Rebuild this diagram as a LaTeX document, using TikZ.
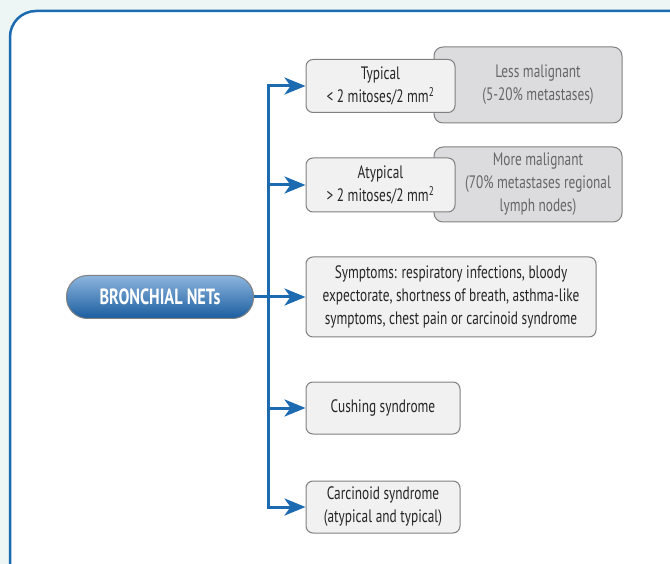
\documentclass[tikz,border=0pt]{standalone}
\usepackage{fontspec}
\setmainfont[FakeStretch=0.74]{PT Sans}
\usetikzlibrary{arrows.meta}
\definecolor{netblue}{HTML}{1C6BB0}
\definecolor{netlight}{HTML}{8DB4DE}
\definecolor{netdark}{HTML}{1A5E9F}
\definecolor{boxgray}{HTML}{F1F1F1}
\definecolor{gradegray}{HTML}{DCDCDE}
\definecolor{edgegray}{HTML}{808080}
\definecolor{bggray}{HTML}{EEF5F5}
\tikzset{
  netbox/.style={draw=edgegray, fill=boxgray, rounded corners=7pt, line width=1pt,
    align=center, text=black!85, font=\fontsize{18}{23}\selectfont},
  gradebox/.style={draw=edgegray, fill=gradegray, rounded corners=9pt, line width=1pt},
  gradetext/.style={align=center, text=black!60, font=\fontsize{18}{23}\selectfont},
  pill/.style={draw=edgegray, line width=1pt, rounded corners=21pt,
    top color=netlight, bottom color=netdark, text=white,
    font=\fontsize{22}{24}\selectfont\bfseries},
  netline/.style={draw=netblue, line width=3pt},
  netarrow/.style={netline, -{Stealth[length=21pt,width=17pt,inset=6pt]}},
}
\begin{document}
\begin{tikzpicture}[x=1pt,y=-1pt]
\useasboundingbox (0,0) rectangle (670,564);
\clip (0,0) rectangle (670,564);
\fill [bggray] (0,0) rectangle (670,564);
\draw [netblue, line width=2.5pt, fill=white, rounded corners=26pt] (10,11) rectangle (700,600);
% grade boxes behind
\node [gradebox, minimum width=188pt, minimum height=76pt] (less) at (528,85) {};
\node [gradetext] (lesstext) at (538,85) {Less malignant\\(5-20\% metastases)};
\node [gradebox, minimum width=188pt, minimum height=75pt] (more) at (528,184.5) {};
\node [gradetext] (moretext) at (538,184.5) {More malignant\\(70\% metastases regional\\lymph nodes)};
% main boxes
\node [netbox, minimum width=149pt, minimum height=53pt] (typ) at (380.5,86) {Typical\\< 2 mitoses/2 mm\textsuperscript{2}};
\node [netbox, minimum width=149pt, minimum height=54pt] (atyp) at (380.5,185) {Atypical\\> 2 mitoses/2 mm\textsuperscript{2}};
\node [netbox, minimum width=290pt, minimum height=80pt] (symp) at (451,297) {Symptoms: respiratory infections, bloody\\expectorate, shortness of breath, asthma-like\\symptoms, chest pain or carcinoid syndrome};
\node [netbox, minimum width=154pt, minimum height=52pt] (cush) at (383,408) {Cushing syndrome};
\node [netbox, minimum width=154pt, minimum height=52pt] (carc) at (383,507) {Carcinoid syndrome\\(atypical and typical)};
\node [pill, minimum width=187pt, minimum height=43pt] (nets) at (160,297) {BRONCHIAL NETs};
%trunk
\coordinate (trunk) at (268,297);
\draw [netline] (nets.east) -- (trunk);
\draw [netarrow] (trunk) |- (typ.west);
\draw [netarrow] (trunk) |- (carc.west);
\foreach \n in {atyp,symp,cush} {\draw [netarrow] (trunk |- \n.west) -- (\n.west);}
\end{tikzpicture}
\end{document}
